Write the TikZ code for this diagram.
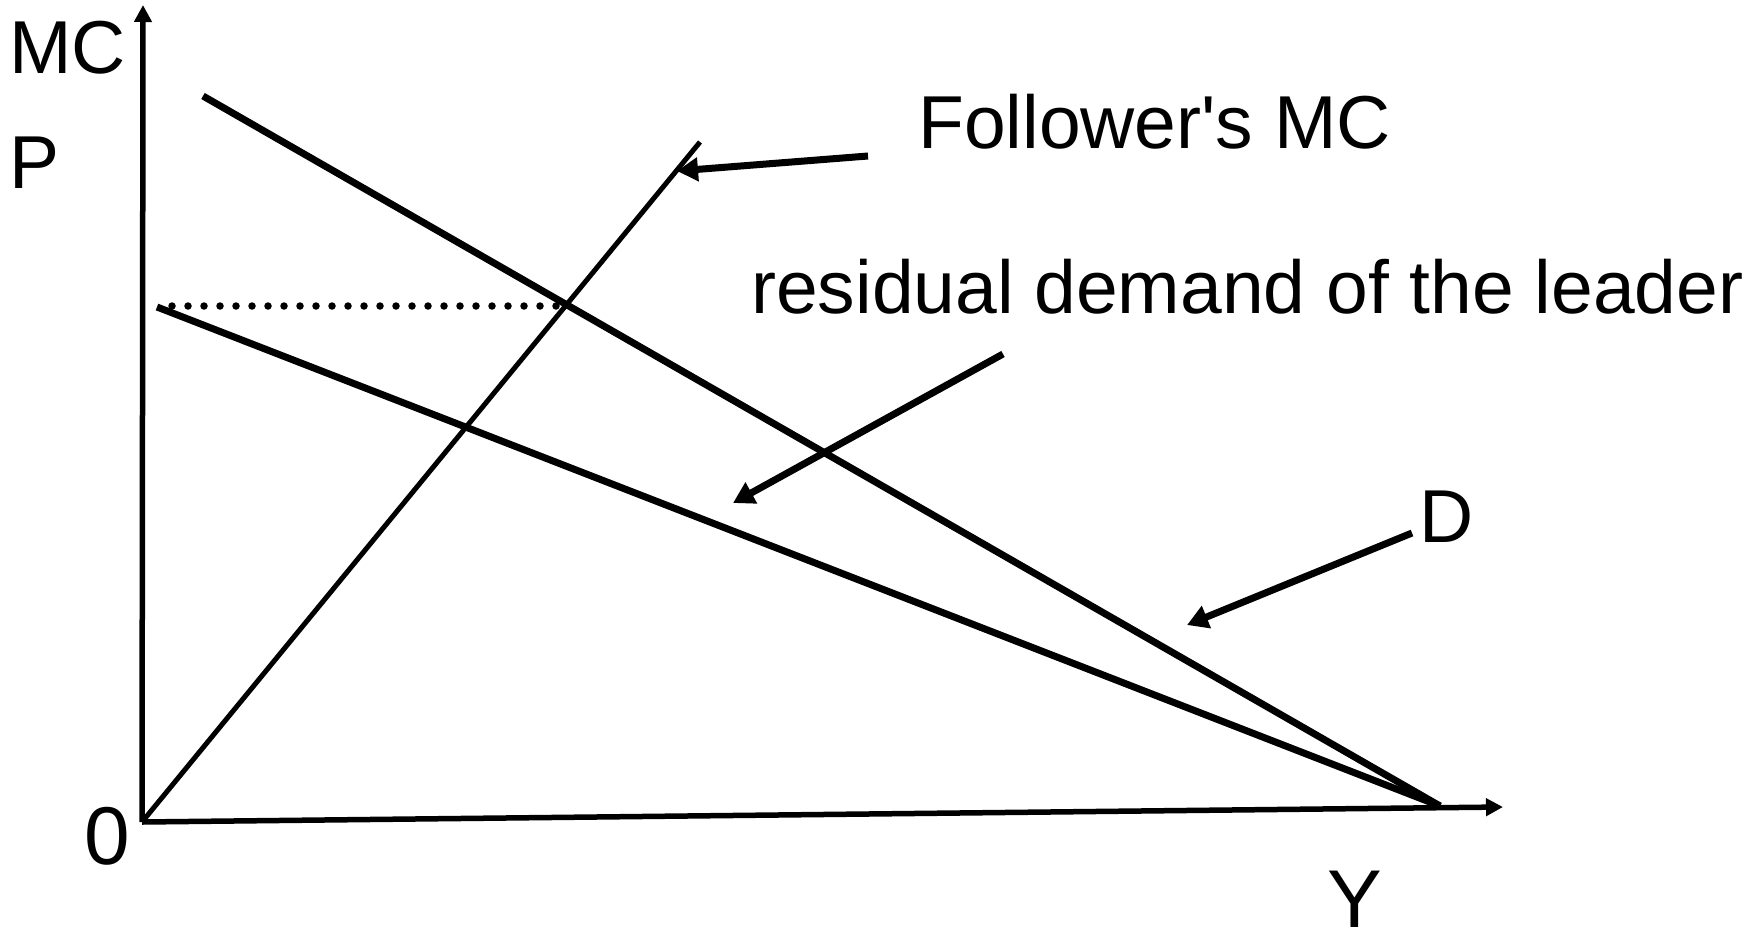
\documentclass[tikz,border=0pt]{standalone}
\usepackage{fontspec}
\setmainfont{Liberation Sans}
\newfontfamily\labelfont{Liberation Sans}
\usetikzlibrary{arrows.meta}
\begin{document}
\begin{tikzpicture}[x=1pt,y=-1pt,
  lbl/.style={inner sep=0pt,anchor=base west,font=\labelfont\fontsize{75}{80}\selectfont},
  biglbl/.style={inner sep=0pt,anchor=base west,font=\labelfont\fontsize{82}{88}\selectfont},
  axis/.style={line width=5.5pt,-{Triangle[length=17pt,width=17pt]}},
  curve/.style={line width=7pt},
  mccurve/.style={line width=5pt},
  pointer/.style={line width=7pt,-{Triangle[length=21pt,width=23pt]}},
  guide/.style={line width=7.5pt,line cap=round,dash pattern=on 0pt off 16pt}]
\useasboundingbox (0,0) rectangle (1760,929);

% axes
\coordinate (O) at (142,822);
\coordinate (ytop) at (143,5);
\coordinate (xend) at (1503,807);
\draw[axis] (O) -- (ytop);
\draw[axis] (O) -- (xend);

% demand, residual demand and follower's marginal cost
\coordinate (Dtop) at (203,96);
\coordinate (Rtop) at (157,307);
\coordinate (Qend) at (1440,806);
\coordinate (MCtop) at (700,142);
\draw[curve] (Dtop) -- (Qend);
\draw[curve] (Rtop) -- (Qend);
\draw[mccurve] (O) -- (MCtop);

% price level at the follower's supply point
\coordinate (E) at (intersection of Dtop--Qend and O--MCtop);
\coordinate (Pstart) at (172,306);
\draw[guide] (Pstart) -- (E |- Pstart);

% labels
\node[lbl] (mc) at (9,73) {MC};
\node[lbl] (p) at (9,188) {P};
\node[biglbl] (zero) at (84,864) {0};
\node[biglbl] (y) at (1327,927) {Y};
\node[lbl] (fmc) at (918,148) {Follower's MC};
\node[lbl] (res) at (751,313) {residual demand of the leader};
\node[lbl] (d) at (1419,542) {D};

% pointers
\coordinate (a1s) at (868,156);
\coordinate (a1e) at (677,171);
\coordinate (a2s) at (1003,354);
\coordinate (a2e) at (733,503);
\coordinate (a3s) at (1412,533);
\coordinate (a3e) at (1187,625);
\draw[pointer] (a1s) -- (a1e);
\draw[pointer] (a2s) -- (a2e);
\draw[pointer] (a3s) -- (a3e);
\end{tikzpicture}
\end{document}
